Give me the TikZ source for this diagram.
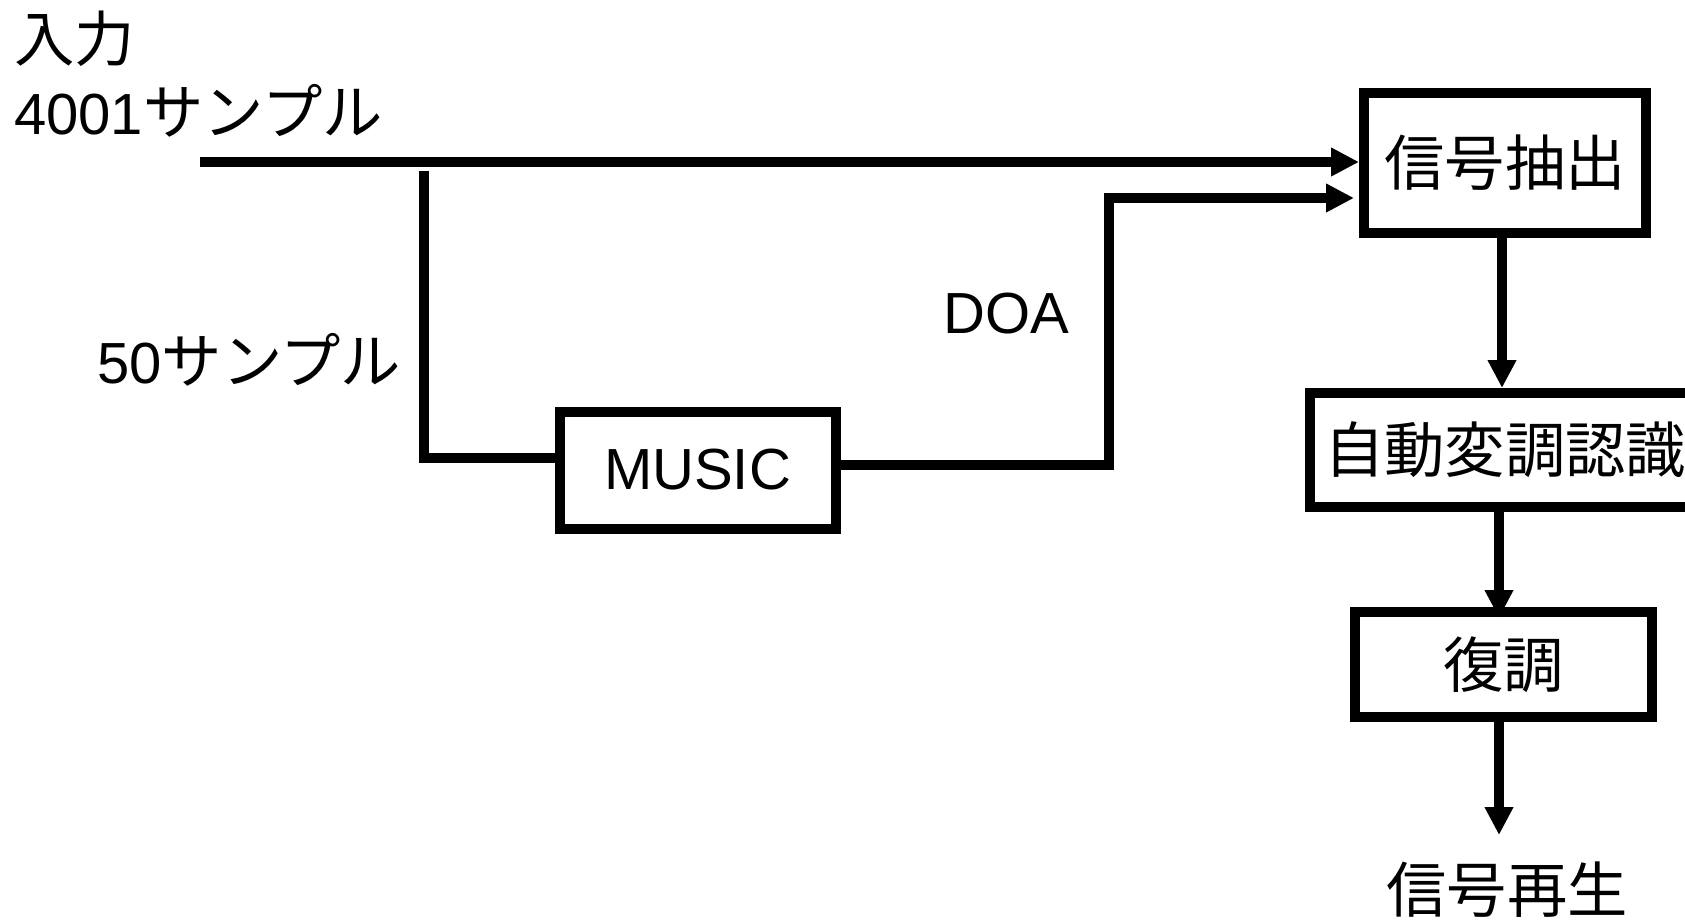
\documentclass[tikz,border=0pt]{standalone}
\usepackage{fontspec}
\setmainfont{Liberation Sans}
\newfontfamily\jp[Scale=1.04]{Noto Sans CJK JP}
\usetikzlibrary{arrows.meta}
\tikzset{
  txt/.style={font=\fontsize{58pt}{70pt}\selectfont, inner sep=0pt},
  blockbox/.style={draw, line width=10pt, fill=white, txt},
  wire/.style={line width=10pt, line join=miter},
  arrowwire/.style={wire, -{Triangle[length=28pt,width=27pt]}},
}
\begin{document}
\begin{tikzpicture}[x=1pt,y=-1pt]
\useasboundingbox (0,0) rectangle (1685,920);
% boxes
\node[blockbox, minimum width=282pt, minimum height=140pt] (extract) at (1505,163) {\jp 信号抽出};
\node[blockbox, minimum width=390pt, minimum height=114pt] (recog) at (1505,450) {\jp 自動変調認識};
\node[blockbox, minimum width=297pt, minimum height=105pt] (dem) at (1503.5,664.5) {\jp 復調};
\node[blockbox, minimum width=276pt, minimum height=117pt] (music) at (697.5,470) {MUSIC};
% labels
\node[txt, anchor=base west] (inlab) at (14,62) {\jp 入力};
\node[txt, anchor=base west] (n4001) at (14,135) {4001{\jp サンプル}};
\node[txt, anchor=base west] (n50) at (97,383) {50{\jp サンプル}};
\node[txt, anchor=base] (doa) at (1006,333) {DOA};
\node[txt] (regen) at (1507,890) {\jp 信号再生};
% coordinates
\coordinate (in) at (200,162);
\coordinate (tap) at (424,171);
\coordinate (doaturn) at (1109,198);
\coordinate (regentip) at (1499,835);
% connectors
\draw[arrowwire] (in) -- (in -| extract.west);
\draw[wire] (tap) |- ([yshift=12pt]music.west);
\draw[arrowwire] ([yshift=5pt]music.east) -| (doaturn) -- ([xshift=-5pt]doaturn -| extract.west);
\draw[arrowwire] ([xshift=-3pt]extract.south) -- ([xshift=-3pt]extract.south |- recog.north);
\draw[arrowwire] ([xshift=-6pt]recog.south) -- ([xshift=-6pt,yshift=-11pt]recog.south |- dem.north);
\draw[arrowwire] (dem.south -| regentip) -- (regentip);
\end{tikzpicture}
\end{document}
